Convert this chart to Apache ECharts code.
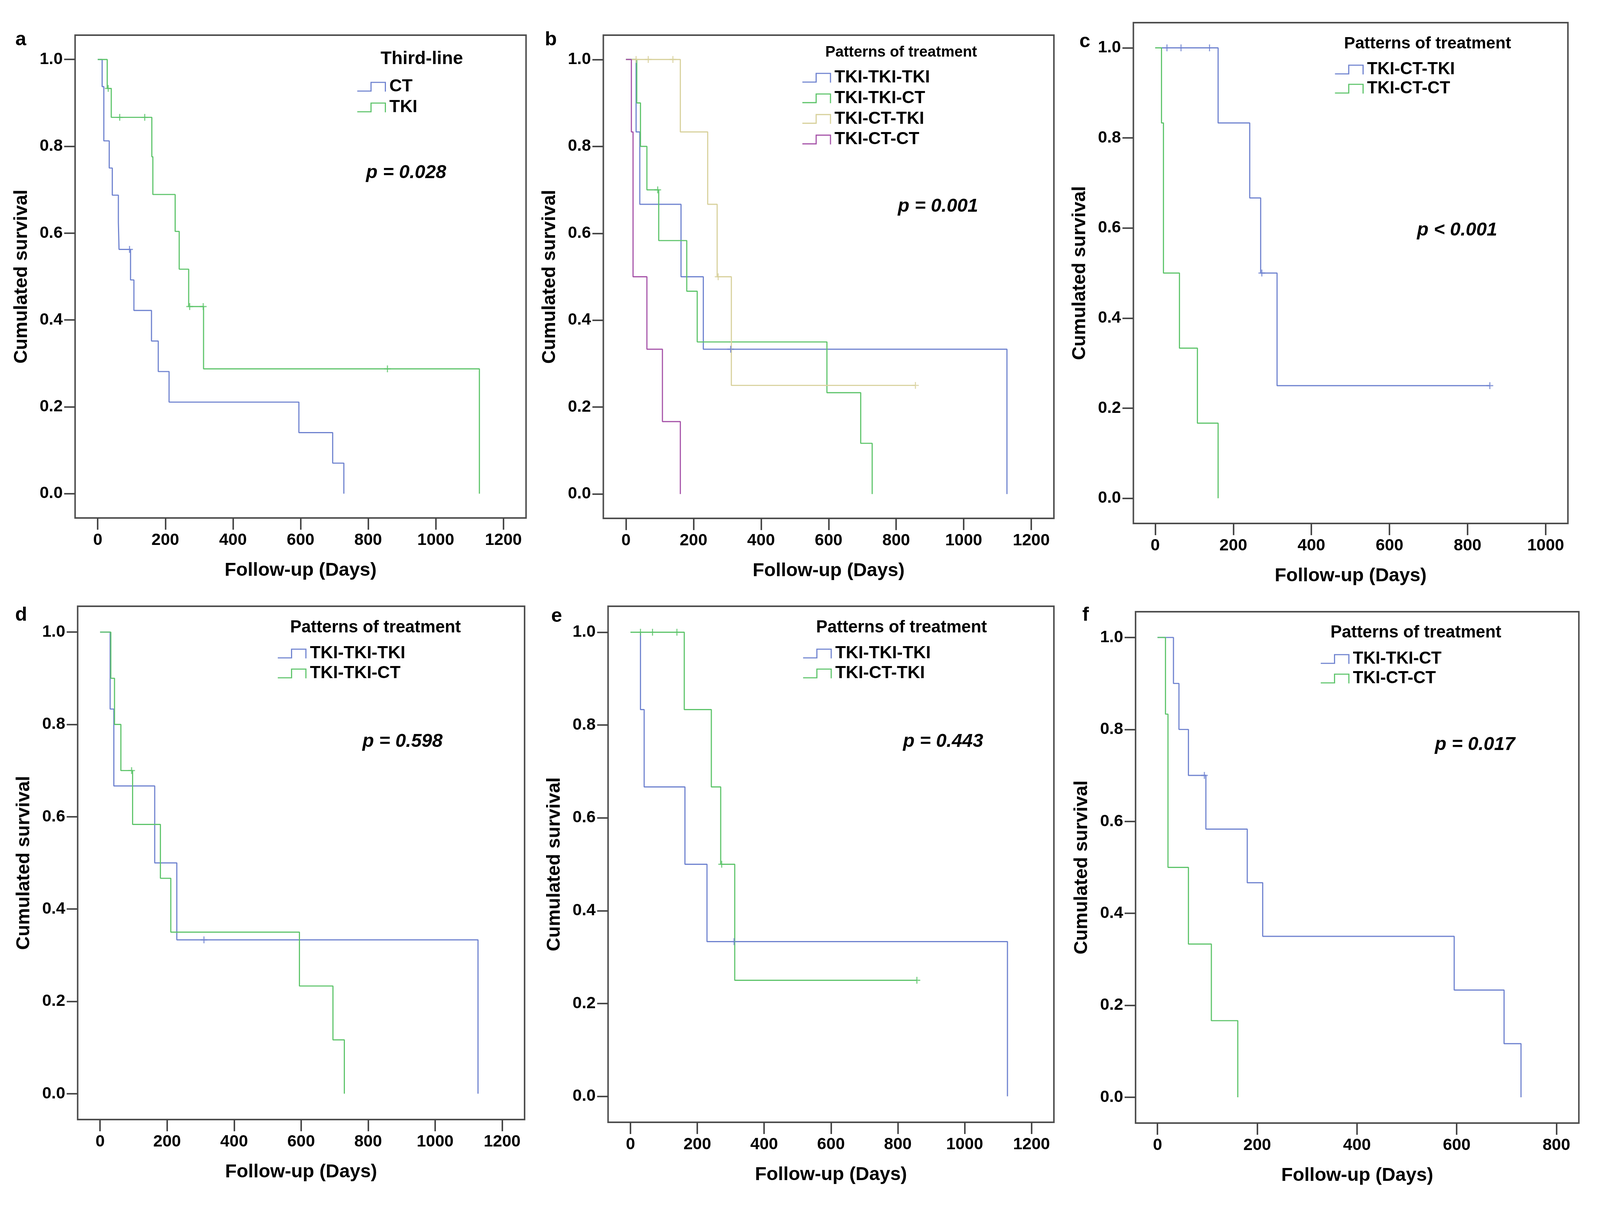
<!DOCTYPE html>
<html><head><meta charset="utf-8">
<script src="https://cdn.jsdelivr.net/npm/echarts@6/dist/echarts.min.js"></script>
<style>html,body{margin:0;padding:0;background:#fff;overflow:hidden}#c{position:absolute;left:0;top:0}</style>
</head><body><div id="c"></div>
<script>
// ---------------- DATA ----------------
const yTicks = [0, 0.2, 0.4, 0.6, 0.8, 1.0];
const xTicks1200 = [0, 200, 400, 600, 800, 1000, 1200];
const xTicks1000 = [0, 200, 400, 600, 800, 1000];
const xTicks800 = [0, 200, 400, 600, 800];

// Third-line CT (days, cumulative survival after event)
const ctEvents = [[13,0.9375],[18,0.8125],[34,0.75],[43,0.6875],[61,0.625],[63,0.5625],[97,0.4922],[107,0.4219],[159,0.3516],[179,0.2813],[211,0.2109],[595,0.1406],[695,0.0703],[728,0]];
const ctCensored = [[94,0.5625]];
// Third-line TKI
const tkiEvents = [[28,0.9333],[40,0.8667],[160,0.776],[163,0.689],[229,0.604],[241,0.517],[269,0.431],[313,0.2875],[1129,0]];
const tkiCensored = [[31,0.9333],[65,0.8667],[139,0.8667],[272,0.431],[312,0.431],[857,0.2875]];
// TKI-TKI-TKI
const tttEvents = [[30,0.8333],[41,0.6667],[163,0.5],[229,0.3333],[1128,0]];
const tttCensored = [[310,0.3333]];
// TKI-TKI-CT
const ttcEvents = [[32,0.9],[43,0.8],[62,0.7],[97,0.5833],[180,0.4667],[211,0.35],[595,0.2333],[695,0.1167],[729,0]];
const ttcCensored = [[94,0.7]];
// TKI-CT-TKI
const tctEvents = [[161,0.8333],[242,0.6667],[270,0.5],[312,0.25]];
const tctCensored = [[30,1],[66,1],[139,1],[273,0.5],[857,0.25]];
// TKI-CT-CT
const tccEvents = [[16,0.8333],[21,0.5],[62,0.3333],[108,0.1667],[161,0]];
const tccCensored = [];

const panelLetters = ['a','b','c','d','e','f'];
const legendTitles = ['Third-line','Patterns of treatment','Patterns of treatment','Patterns of treatment','Patterns of treatment','Patterns of treatment'];
const pValues = ['p = 0.028','p = 0.001','p < 0.001','p = 0.598','p = 0.443','p = 0.017'];
const xTitle = 'Follow-up (Days)';
const yTitle = 'Cumulated survival';

// ---------------- STYLE / LAYOUT ----------------
const W = window.innerWidth || 4389, H = window.innerHeight || 3095;
const sx = W / 4389, sy = H / 3095, sf = Math.sqrt(sx * sy);
const X = v => v * sx, Y = v => v * sy, F = v => v * sf;
const el = document.getElementById('c');
el.style.width = W + 'px'; el.style.height = H + 'px';

const FONT = '"Liberation Sans", Arial, Helvetica, sans-serif';
const C = {blue:'#6e82cf', green:'#5dc46a', tan:'#d8d19c', purple:'#a552a8'};
const CT = {events:ctEvents, censored:ctCensored};
const TKI = {events:tkiEvents, censored:tkiCensored};
const TTT = {events:tttEvents, censored:tttCensored};
const TTC = {events:ttcEvents, censored:ttcCensored};
const TCT = {events:tctEvents, censored:tctCensored};
const TCC = {events:tccEvents, censored:tccCensored};

const panels = [
  {grid:[206,90,1237,1236], xr:[-67,1267], xt:xTicks1200,
   curves:[['CT',CT,C.blue],['TKI',TKI,C.green]],
   leg:{left:980,c0:222,pitch:53,font:46}, lt:{x:1157,y:151,size:48}, p:{x:1004,y:443}, let:{x:57,y:102}},
  {grid:[1655,90,1236,1237], xr:[-67,1267], xt:xTicks1200,
   curves:[['TKI-TKI-TKI',TTT,C.blue],['TKI-TKI-CT',TTC,C.green],['TKI-CT-TKI',TCT,C.tan],['TKI-CT-CT',TCC,C.purple]],
   leg:{left:2201,c0:199,pitch:52.7,font:46}, lt:{x:2472,y:134,size:40}, p:{x:2463,y:529}, let:{x:1511,y:102}},
  {grid:[3109,58,1192,1282], xr:[-56,1057], xt:xTicks1000,
   curves:[['TKI-CT-TKI',TCT,C.blue],['TKI-CT-CT',TCC,C.green]],
   leg:{left:3662,c0:178,pitch:49,font:45}, lt:{x:3916,y:112,size:44}, p:{x:3887,y:590}, let:{x:2976,y:107}},
  {grid:[213,1552,1226,1314], xr:[-67,1267], xt:xTicks1200,
   curves:[['TKI-TKI-TKI',TTT,C.blue],['TKI-TKI-CT',TTC,C.green]],
   leg:{left:762,c0:1673,pitch:51,font:46}, lt:{x:1030,y:1607,size:45}, p:{x:994,y:1899}, let:{x:58,y:1575}},
  {grid:[1668,1552,1223,1321], xr:[-67,1267], xt:xTicks1200,
   curves:[['TKI-TKI-TKI',TTT,C.blue],['TKI-CT-TKI',TCT,C.green]],
   leg:{left:2203,c0:1673,pitch:51,font:46}, lt:{x:2473,y:1607,size:45}, p:{x:2477,y:1899}, let:{x:1527,y:1578}},
  {grid:[3115,1566,1216,1309], xr:[-44,845], xt:xTicks800,
   curves:[['TKI-TKI-CT',TTC,C.blue],['TKI-CT-CT',TCC,C.green]],
   leg:{left:3623,c0:1687,pitch:50,font:45}, lt:{x:3884,y:1620,size:45}, p:{x:3936,y:1907}, let:{x:2978,y:1575}}
];

const stepIcon = 'path://M0,23 L35,23 L35,0 L76,0 L76,26 L73,26 L73,3 L38,3 L38,26 L0,26 Z';
const plusSym = 'path://M7.5,0 L10.5,0 L10.5,7.5 L18,7.5 L18,10.5 L10.5,10.5 L10.5,18 L7.5,18 L7.5,10.5 L0,10.5 L0,7.5 L7.5,7.5 Z';

function kmPath(c) {
  const pts = [[0, 1]].concat(c.events);
  const last = pts[pts.length - 1];
  let maxC = null;
  c.censored.forEach(p => { if (!maxC || p[0] > maxC[0]) maxC = p; });
  if (maxC && maxC[0] > last[0]) pts.push([maxC[0], last[1]]);
  return pts;
}

const grids = [], xAxes = [], yAxes = [], series = [], legends = [], graphics = [];
panels.forEach((P, i) => {
  const id = panelLetters[i];
  grids.push({show:true, borderColor:'#4d4d4d', borderWidth:F(4), backgroundColor:'transparent', containLabel:false,
    left:X(P.grid[0]), top:Y(P.grid[1]), width:X(P.grid[2]), height:Y(P.grid[3])});
  xAxes.push({
    type:'value', gridIndex:i, min:P.xr[0], max:P.xr[1],
    axisLine:{show:false, onZero:false},
    axisTick:{show:true, length:Y(30), customValues:P.xt, lineStyle:{color:'#444', width:F(4)}},
    axisLabel:{customValues:P.xt, margin:Y(36), fontSize:F(44), fontWeight:'bold', color:'#000', fontFamily:FONT,
               formatter: v => String(Math.round(v))},
    splitLine:{show:false},
    name:xTitle, nameLocation:'middle', nameGap:Y(111),
    nameTextStyle:{fontSize:F(50), fontWeight:'bold', color:'#000', fontFamily:FONT}
  });
  yAxes.push({
    type:'value', gridIndex:i, min:-0.056, max:1.056,
    axisLine:{show:false, onZero:false},
    axisTick:{show:true, length:X(30), customValues:yTicks, lineStyle:{color:'#444', width:F(4)}},
    axisLabel:{customValues:yTicks, margin:X(34), fontSize:F(44), fontWeight:'bold', color:'#000', fontFamily:FONT,
               formatter: v => Number(v).toFixed(1)},
    splitLine:{show:false},
    name:yTitle, nameLocation:'middle', nameGap:X(121), nameRotate:90,
    nameTextStyle:{fontSize:F(50), fontWeight:'bold', color:'#000', fontFamily:FONT}
  });
  const names = [];
  P.curves.forEach(([label, curve, color]) => {
    const nm = id + '|' + label;
    names.push(nm);
    series.push({
      name:nm, type:'line', xAxisIndex:i, yAxisIndex:i, data:kmPath(curve), step:'end',
      symbol:'none', showSymbol:false, color:color,
      lineStyle:{color:color, width:F(3)}, itemStyle:{color:color}, z:2, silent:true
    });
    if (curve.censored.length) series.push({
      name:nm + '|cens', type:'scatter', xAxisIndex:i, yAxisIndex:i, data:curve.censored,
      symbol:plusSym, symbolSize:F(18), itemStyle:{color:color}, z:3, silent:true
    });
  });
  const L = P.leg;
  legends.push({
    data:names, orient:'vertical', left:X(L.left), top:Y(L.c0) - F(L.font)/2, itemWidth:F(76), itemHeight:F(26),
    itemGap:Y(L.pitch) - F(L.font), icon:stepIcon, selectedMode:false, padding:0,
    itemStyle:{borderWidth:0},
    formatter: n => n.split('|')[1],
    textStyle:{fontSize:F(L.font), lineHeight:F(L.font), fontWeight:'bold', color:'#000', fontFamily:FONT, padding:[0,0,0,F(4)]}
  });
  graphics.push({type:'text', x:X(P.lt.x), y:Y(P.lt.y), style:{text:legendTitles[i], fontSize:F(P.lt.size), fontWeight:'bold', fontFamily:FONT, fill:'#000', align:'center', verticalAlign:'middle'}});
  graphics.push({type:'text', x:X(P.p.x), y:Y(P.p.y), style:{text:pValues[i], fontSize:F(50), fontWeight:'bold', fontStyle:'italic', fontFamily:FONT, fill:'#000', align:'left', verticalAlign:'middle'}});
  graphics.push({type:'text', x:X(P.let.x), y:Y(P.let.y), style:{text:id, fontSize:F(52), fontWeight:'bold', fontFamily:FONT, fill:'#000', align:'center', verticalAlign:'middle'}});
});

const chart = echarts.init(el, null, {renderer:'canvas', width:W, height:H});
chart.setOption({
  animation:false, backgroundColor:'#ffffff',
  grid:grids, xAxis:xAxes, yAxis:yAxes, series:series, legend:legends, graphic:graphics
});
</script></body></html>
